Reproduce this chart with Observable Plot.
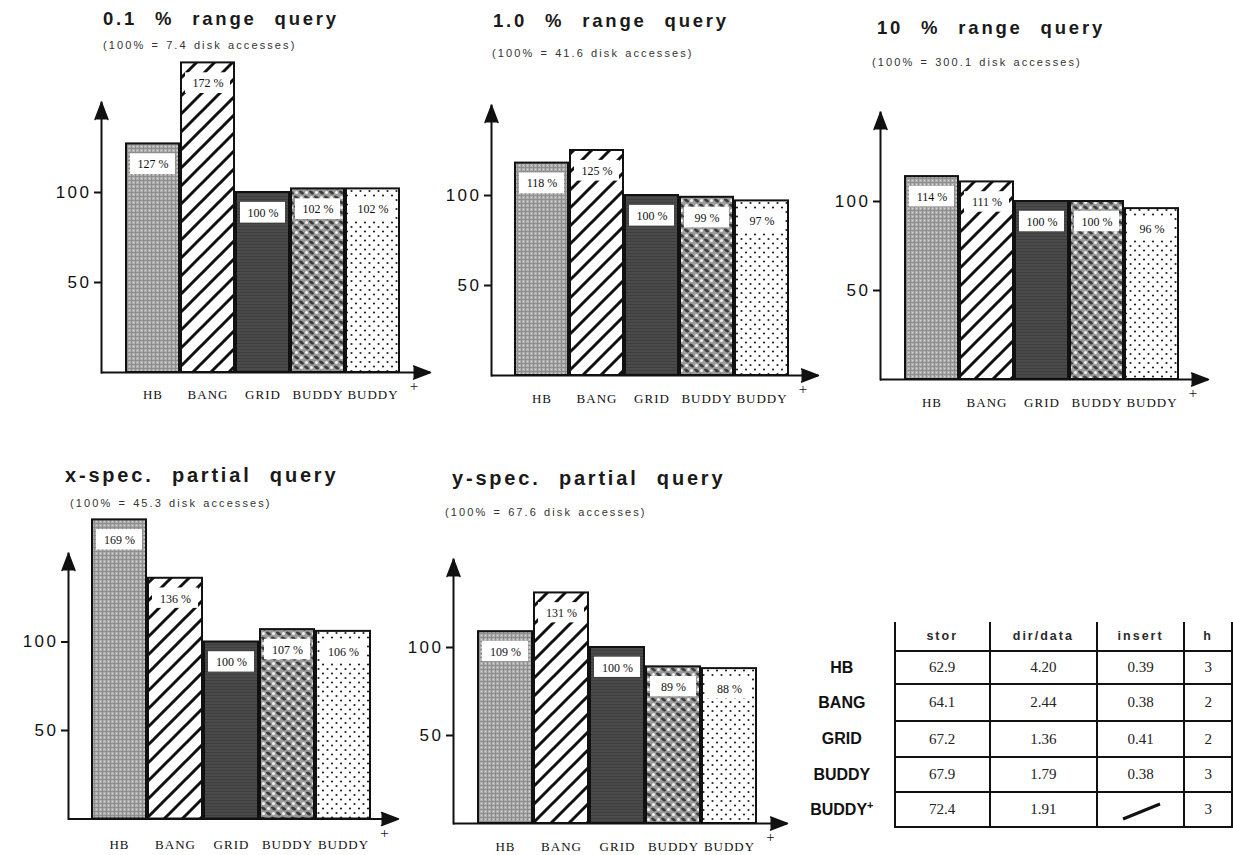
<!DOCTYPE html>
<html><head><meta charset="utf-8">
<script src="https://cdn.jsdelivr.net/npm/d3@7"></script>
<script src="https://cdn.jsdelivr.net/npm/@observablehq/plot@0.6"></script>
<style>
body{margin:0;background:#fff;}
#page{position:relative;width:1233px;height:855px;overflow:hidden;background:#fff;font-family:"Liberation Sans",Arial,sans-serif;color:#111;}
.title{position:absolute;font-weight:bold;font-size:18.5px;letter-spacing:2.8px;word-spacing:10px;line-height:1;white-space:nowrap;color:#1a1a1a;}
.sub{position:absolute;font-size:11px;letter-spacing:2.1px;word-spacing:1px;line-height:1;white-space:nowrap;color:#333;}
#page svg g[aria-label="y-axis tick label"]{letter-spacing:2.5px;font-family:"Liberation Sans",Arial,sans-serif;}
#page svg g[aria-label="x-axis tick label"]{letter-spacing:1px;}
table.stats{position:absolute;left:800px;top:622px;border-collapse:collapse;table-layout:fixed;}
table.stats th{font-family:"Liberation Sans",Arial,sans-serif;font-weight:bold;font-size:12.5px;letter-spacing:2px;color:#2a2a2a;border-left:2px solid #111;border-right:2px solid #111;border-bottom:2px solid #111;height:28px;padding:0;text-align:center;}
table.stats th.blank{border:none;}
table.stats td{font-family:"Liberation Serif","Times New Roman",serif;font-size:15px;text-align:center;border:2px solid #111;padding:0;color:#222;}
table.stats td.rl{border:none;font-family:"Liberation Sans",Arial,sans-serif;font-weight:bold;font-size:16px;text-align:center;padding-right:10px;color:#111;}
table.stats td.rl sup{font-size:11px;}
</style>
</head><body>
<div id="page">
<svg width="0" height="0" style="position:absolute;left:0;top:0">
<defs>
<pattern id="pHB" patternUnits="userSpaceOnUse" width="4" height="4">
 <rect width="4" height="4" fill="#b0b0b0"/>
 <rect width="4" height="1" fill="#8e8e8e"/>
 <rect width="1" height="4" fill="#8e8e8e"/>
 <rect x="2" y="2" width="1" height="1" fill="#dadada"/>
</pattern>
<pattern id="pBANG" patternUnits="userSpaceOnUse" width="18" height="18">
 <rect width="18" height="18" fill="#fff"/>
 <path d="M-2,20 L20,-2 M-2,2 L2,-2 M16,20 L20,16" stroke="#111" stroke-width="3"/>
</pattern>
<pattern id="pGRID" patternUnits="userSpaceOnUse" width="4" height="3">
 <rect width="4" height="3" fill="#4a4a4a"/>
 <rect width="4" height="1" fill="#3e3e3e"/>
</pattern>
<pattern id="pBUD" patternUnits="userSpaceOnUse" width="10" height="10">
 <rect width="10" height="10" fill="#9c9c9c"/>
 <ellipse cx="2.5" cy="2.5" rx="2.8" ry="1.4" transform="rotate(35 2.5 2.5)" fill="#3c3c3c"/>
 <ellipse cx="7.5" cy="7.5" rx="2.8" ry="1.4" transform="rotate(35 7.5 7.5)" fill="#3c3c3c"/>
 <circle cx="7.5" cy="2.5" r="1.5" fill="#f2f2f2"/>
 <circle cx="2.5" cy="7.5" r="1.5" fill="#f2f2f2"/>
</pattern>
<pattern id="pBP" patternUnits="userSpaceOnUse" width="9" height="9">
 <rect width="9" height="9" fill="#fff"/>
 <circle cx="2" cy="2.5" r="1.1" fill="#222"/>
 <circle cx="6.5" cy="7" r="1.1" fill="#222"/>
</pattern>
</defs>
</svg>
</div>
<script>
// ---------- data ----------
const categories = ["HB", "BANG", "GRID", "BUDDY", "BUDDY+"];
const titles = ["0.1 % range query", "1.0 % range query", "10 % range query", "x-spec. partial query", "y-spec. partial query"];
const diskAccesses = ["7.4", "41.6", "300.1", "45.3", "67.6"];
const range01 = [127, 172, 100, 102, 102];
const range1 = [118, 125, 100, 99, 97];
const range10 = [114, 111, 100, 100, 96];
const xSpecPartial = [169, 136, 100, 107, 106];
const ySpecPartial = [109, 131, 100, 89, 88];
const yTicks = [50, 100];

const tableRows = ["HB", "BANG", "GRID", "BUDDY", "BUDDY+"];
const tableCols = ["stor", "dir/data", "insert", "h"];
const stor = ["62.9", "64.1", "67.2", "67.9", "72.4"];
const dirData = ["4.20", "2.44", "1.36", "1.79", "1.91"];
const insert = ["0.39", "0.38", "0.41", "0.38", null];
const treeHeight = ["3", "2", "2", "3", "3"];

// ---------- styles / layout ----------
const patterns = {"HB": "url(#pHB)", "BANG": "url(#pBANG)", "GRID": "url(#pGRID)", "BUDDY": "url(#pBUD)", "BUDDY+": "url(#pBP)"};
const series = [range01, range1, range10, xSpecPartial, ySpecPartial];
const layout = [
  {axis: 101, tip: 430, base: 372, ppu: 1.80, pad: 17, tx: 103, ty: 9.5, tf: 18.5, sx: 103, sy: 39.5},
  {axis: 491, tip: 818, base: 375, ppu: 1.80, pad: 18, tx: 493, ty: 11.5, tf: 18.5, sx: 492, sy: 47.5},
  {axis: 880, tip: 1208, base: 379, ppu: 1.78, pad: 18, tx: 877, ty: 18.5, tf: 18.5, sx: 872, sy: 56.5},
  {axis: 68, tip: 398, base: 818, ppu: 1.77, pad: 21, tx: 65, ty: 465, tf: 20, sx: 70, sy: 497.5},
  {axis: 453, tip: 787, base: 823, ppu: 1.76, pad: 18, tx: 452, ty: 467.5, tf: 20, sx: 445, sy: 506.5}
];
const yMax = 150;
const page = document.getElementById("page");
const ink = "#111";

series.forEach((values, i) => {
  const L = layout[i];
  const data = categories.map((c, j) => ({cat: c, v: values[j]}));
  const mL = 62, mR = 30, mT = 62, mB = 40;
  const top = L.base - yMax * L.ppu;
  const fw = L.tip - L.axis, fh = L.base - top;
  const svg = Plot.plot({
    width: mL + fw + mR, height: mT + fh + mB,
    marginLeft: mL, marginRight: mR, marginTop: mT, marginBottom: mB,
    style: {background: "transparent", fontFamily: '"Liberation Serif","Times New Roman",serif', overflow: "visible", color: ink},
    x: {domain: categories, paddingInner: 0.04, paddingOuter: 0.46, align: 0.45},
    y: {domain: [0, yMax]},
    color: {type: "identity"},
    marks: [
      Plot.barY(data, {x: "cat", y: "v", fill: d => patterns[d.cat], stroke: ink, strokeWidth: 2}),
      Plot.barY(data, {x: "cat", y1: d => d.v - 5.5, y2: d => d.v - 17, fill: "white", insetLeft: 4, insetRight: 4}),
      Plot.text(data, {x: "cat", y: "v", text: d => d.v + " %", dy: 20.5, fontSize: 12, fill: ink}),
      Plot.ruleY([0], {stroke: ink, strokeWidth: 2}),
      Plot.frame({anchor: "left", stroke: ink, strokeWidth: 2}),
      Plot.vector([yMax], {y: d => d, frameAnchor: "left", rotate: 0, anchor: "end", shape: "spike", length: 17, r: 6.5, fill: ink, stroke: ink}),
      Plot.vector([0], {y: d => d, frameAnchor: "right", rotate: 90, anchor: "end", shape: "spike", length: 17, r: 6.5, fill: ink, stroke: ink}),
      Plot.axisY({ticks: yTicks, label: null, tickSize: 7, tickPadding: 3, fontSize: 17, strokeWidth: 2}),
      Plot.axisX({label: null, tickSize: 0, tickPadding: L.pad, fontSize: 13, tickFormat: d => d.replace("+", "")}),
      Plot.text(["+"], {x: () => "BUDDY+", y: () => 0, dx: 41, dy: 14, fontSize: 15, fill: ink})
    ]
  });
  svg.style.position = "absolute";
  svg.style.left = (L.axis - mL) + "px";
  svg.style.top = (top - mT) + "px";
  page.appendChild(svg);

  const t = document.createElement("div");
  t.className = "title";
  t.textContent = titles[i];
  t.style.left = L.tx + "px"; t.style.top = L.ty + "px"; t.style.fontSize = L.tf + "px";
  page.appendChild(t);
  const s = document.createElement("div");
  s.className = "sub";
  s.textContent = `(100% = ${diskAccesses[i]} disk accesses)`;
  s.style.left = L.sx + "px"; s.style.top = L.sy + "px";
  page.appendChild(s);
});

// ---------- table ----------
const colWidths = [96, 99, 110, 89, 50];
const rowHeights = [33, 37, 36, 35, 35];
const tbl = document.createElement("table");
tbl.className = "stats";
const cg = document.createElement("colgroup");
colWidths.forEach(w => { const c = document.createElement("col"); c.style.width = w + "px"; cg.appendChild(c); });
tbl.appendChild(cg);
const hr = document.createElement("tr");
const blank = document.createElement("th"); blank.className = "blank"; hr.appendChild(blank);
tableCols.forEach(c => { const th = document.createElement("th"); th.textContent = c; hr.appendChild(th); });
tbl.appendChild(hr);
tableRows.forEach((r, i) => {
  const tr = document.createElement("tr");
  tr.style.height = rowHeights[i] + "px";
  const lab = document.createElement("td"); lab.className = "rl";
  if (r.endsWith("+")) { lab.innerHTML = r.slice(0, -1) + "<sup>+</sup>"; } else lab.textContent = r;
  tr.appendChild(lab);
  [stor[i], dirData[i], insert[i], treeHeight[i]].forEach(v => {
    const td = document.createElement("td");
    if (v === null) {
      td.innerHTML = '<svg width="60" height="24" style="display:block;margin:auto"><line x1="12" y1="21" x2="49" y2="6" stroke="#111" stroke-width="3"/></svg>';
    } else td.textContent = v;
    tr.appendChild(td);
  });
  tbl.appendChild(tr);
});
page.appendChild(tbl);
</script>
</body></html>
